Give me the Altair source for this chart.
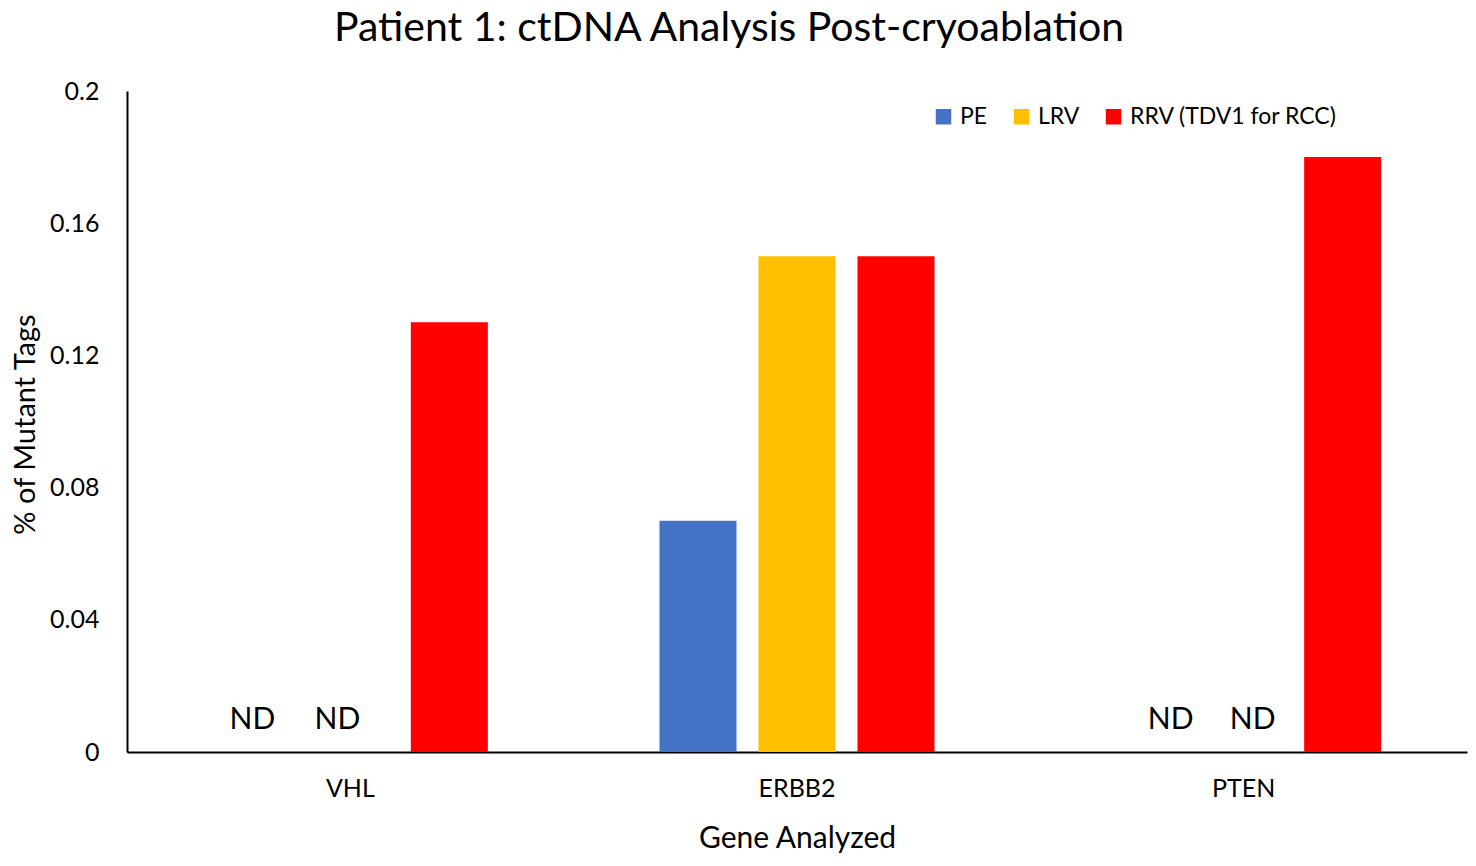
import altair as alt
import pandas as pd

genes = ["VHL", "ERBB2", "PTEN"]
series = ["PE", "LRV", "RRV (TDV1 for RCC)"]
colors = ["#4472C4", "#FFC000", "#FF0000"]
# values per series, in gene order; None = not detected (ND)
pe_vals = [None, 0.07, None]
lrv_vals = [None, 0.15, None]
rrv_vals = [0.13, 0.15, 0.18]

rows = []
for s, vals in zip(series, [pe_vals, lrv_vals, rrv_vals]):
    for g, v in zip(genes, vals):
        rows.append({"gene": g, "series": s, "value": v if v is not None else 0.0,
                     "label": "ND" if v is None else ""})
df = pd.DataFrame(rows)

FONT = "Lato"

# small horizontal nudges of the ND labels (style only)
nd_dx = {("VHL", "PE"): 1, ("VHL", "LRV"): -13, ("PTEN", "PE"): 26, ("PTEN", "LRV"): 9}

x_enc = alt.X("gene:N", sort=genes, title="Gene Analyzed",
              scale=alt.Scale(paddingInner=0, paddingOuter=0),
              axis=alt.Axis(labelAngle=0, ticks=False, tickSize=0, labelPadding=24,
                            labelFontSize=25, labelColor="#000", labelFont=FONT,
                            titleFontSize=30, titleFont=FONT, titleFontWeight="normal",
                            titleColor="#000", titleY=86, titleBaseline="middle",
                            domainColor="#000", domainWidth=2, grid=False))
xoff = alt.XOffset("series:N", sort=series,
                   scale=alt.Scale(paddingInner=0.222, paddingOuter=0.867))

bars = alt.Chart(df).mark_bar().encode(
    x=x_enc,
    xOffset=xoff,
    y=alt.Y("value:Q", title="% of Mutant Tags",
            scale=alt.Scale(domain=[0, 0.2], nice=False),
            axis=alt.Axis(values=[0, 0.04, 0.08, 0.12, 0.16, 0.2], format=".2~f",
                          ticks=False, tickSize=0,
                          labelPadding=28, labelFontSize=25, labelColor="#000", labelFont=FONT,
                          titleFontSize=29, titleFont=FONT, titleFontWeight="normal",
                          titleColor="#000", titleX=-102, titleY=333, titleAngle=-90,
                          titleBaseline="middle", titleAlign="center",
                          domainColor="#000", domainWidth=2, grid=False)),
    color=alt.Color("series:N", sort=series,
                    scale=alt.Scale(domain=series, range=colors),
                    legend=alt.Legend(title=None, orient="none", direction="horizontal",
                                      legendX=805, legendY=14, symbolType="square",
                                      symbolSize=240, symbolStrokeWidth=0, labelLimit=0,
                                      labelFontSize=23, labelFont=FONT, labelColor="#000",
                                      columnPadding=22, labelOffset=5)),
)

nd_layers = []
for (g, s), dx in nd_dx.items():
    nd_layers.append(
        alt.Chart(df).transform_filter(
            f"datum.label == 'ND' && datum.gene == '{g}' && datum.series == '{s}'"
        ).mark_text(
            fontSize=30, font=FONT, color="#000", baseline="middle", dy=-32, dx=dx
        ).encode(
            x=alt.X("gene:N", sort=genes),
            xOffset=xoff,
            y=alt.Y("value:Q"),
            text="label:N",
        )
    )

chart = alt.layer(bars, *nd_layers).properties(
    width=1340, height=661,
    background="white",
    title=alt.TitleParams("Patient 1: ctDNA Analysis Post-cryoablation", fontSize=41,
                          font=FONT, fontWeight="normal", color="#000",
                          anchor="middle", dx=-68, offset=29),
    autosize=alt.AutoSizeParams(type="none"),
    padding={"left": 119, "top": 83, "right": 1, "bottom": 106},
).configure_view(strokeWidth=0, stroke="transparent")

chart.save("out.html", embed_options={"renderer": "svg", "actions": False})
